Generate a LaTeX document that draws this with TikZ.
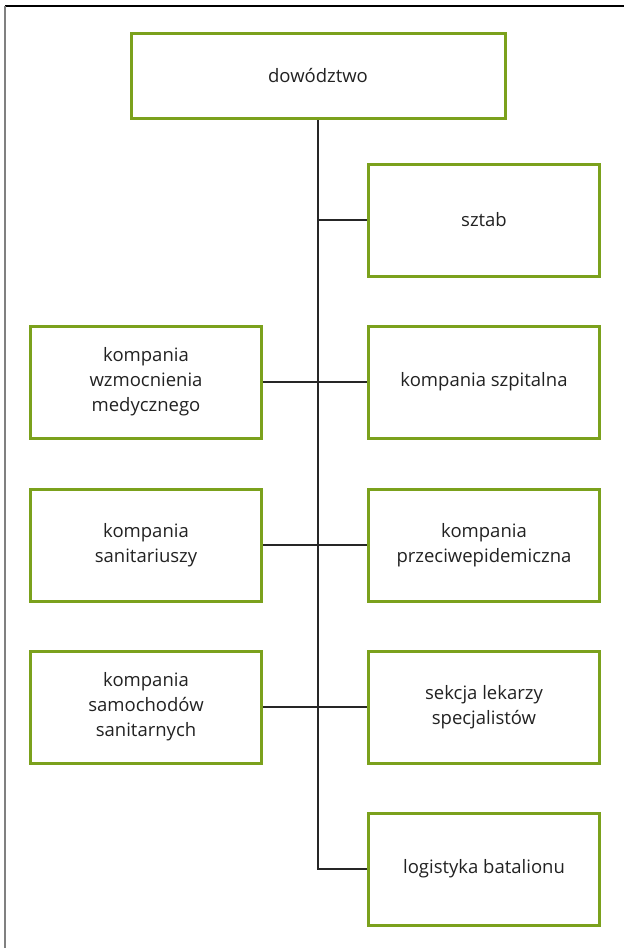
\documentclass[tikz,border=0pt]{standalone}
\usepackage{fontspec}
\setmainfont{Open Sans}
\definecolor{boxgreen}{HTML}{7BA11C}
\definecolor{txt}{HTML}{222222}
\begin{document}
\begin{tikzpicture}[x=1pt,y=-1pt,
  unit/.style={draw=boxgreen, line width=3pt, fill=white, text=txt,
    minimum width=231pt, minimum height=112pt, align=center,
    font=\fontsize{18.5}{25}\selectfont, inner sep=0pt},
  link/.style={draw=black!85, line width=1.3pt}]
\useasboundingbox (0,0) rectangle (624,948);
% page frame
\draw[black, line width=2pt] (5,6) -- (624,6);
\draw[black!50, line width=2pt] (5,6) -- (5,948);

\node[unit, minimum width=374pt, minimum height=85pt] (hq) at (318,76) {dowództwo};
\node[unit] (sztab) at (484,220) {sztab};
\node[unit] (wzm) at (146,382) {kompania\\wzmocnienia\\medycznego};
\node[unit] (szp) at (484,382) {kompania szpitalna};
\node[unit] (san) at (146,545) {kompania\\sanitariuszy};
\node[unit] (epi) at (484,545) {kompania\\przeciwepidemiczna};
\node[unit] (sam) at (146,707) {kompania\\samochodów\\sanitarnych};
\node[unit] (lek) at (484,707) {sekcja lekarzy\\specjalistów};
\node[unit] (log) at (484,869) {logistyka batalionu};

% trunk and branches
\coordinate (bend) at (hq.south |- log.west);
\draw[link] (hq.south) -- (bend) -- (log.west);
\draw[link] (hq.south |- sztab.west) -- (sztab.west);
\draw[link] (wzm.east) -- (szp.west);
\draw[link] (san.east) -- (epi.west);
\draw[link] (sam.east) -- (lek.west);
\end{tikzpicture}
\end{document}
